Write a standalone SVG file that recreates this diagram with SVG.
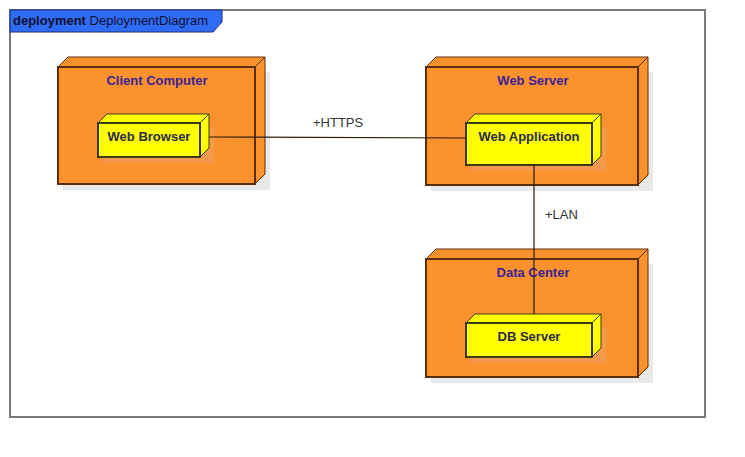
<svg xmlns="http://www.w3.org/2000/svg" width="745" height="457" viewBox="0 0 745 457">
  <style>
    text { font-family: "Liberation Sans", Arial, sans-serif; }
    .shadow { fill: #e9e9e9; }
    .node-front { fill: #fb922e; stroke: #5a2e0a; stroke-width: 2; }
    .node-side { fill: #fb922e; stroke: #5a2e0a; stroke-width: 1; stroke-linejoin: round; }
    .art-front { fill: #ffff00; stroke: #3a3a1a; stroke-width: 2; }
    .art-side { fill: #ffff00; stroke: #3a3a1a; stroke-width: 1; stroke-linejoin: round; }
    .node-title { font-size: 13px; font-weight: bold; fill: #3b1f94; text-anchor: middle; }
    .art-label { font-size: 13px; font-weight: bold; fill: #2c2c44; text-anchor: middle; }
    .edge { stroke: #2a1a0a; stroke-width: 1.2; fill: none; }
    .edge-label { font-size: 13px; fill: #333333; }
  </style>

  <rect width="745" height="457" fill="#ffffff"/>

  <!-- frame -->
  <g id="frame">
    <rect x="10" y="10" width="695" height="407" fill="#ffffff" stroke="#7a7a7a" stroke-width="2"/>
    <path d="M10,10 H222 V22 L213,32 H10 Z" fill="#2f6cf6" stroke="#1a2f7a" stroke-width="1"/>
    <text x="13" y="25" font-size="13" fill="#101030"><tspan font-weight="bold">deployment</tspan> DeploymentDiagram</text>
  </g>

  <!-- Client Computer -->
  <g id="client-computer">
    <rect class="shadow" x="63" y="72" width="207" height="118"/>
    <path class="node-side" d="M58,67 L68,57 H265 L255,67 Z"/>
    <path class="node-side" d="M255,67 L265,57 V174 L255,184 Z"/>
    <rect class="node-front" x="58" y="67" width="197" height="117"/>
    <text class="node-title" x="157" y="85">Client Computer</text>
  </g>

  <!-- Web Server -->
  <g id="web-server">
    <rect class="shadow" x="431" y="72" width="222" height="119"/>
    <path class="node-side" d="M426,67 L436,57 H648 L638,67 Z"/>
    <path class="node-side" d="M638,67 L648,57 V175 L638,185 Z"/>
    <rect class="node-front" x="426" y="67" width="212" height="118"/>
    <text class="node-title" x="533" y="85">Web Server</text>
  </g>

  <!-- Data Center -->
  <g id="data-center">
    <rect class="shadow" x="431" y="264" width="222" height="119"/>
    <path class="node-side" d="M426,259 L436,249 H648 L638,259 Z"/>
    <path class="node-side" d="M638,259 L648,249 V367 L638,377 Z"/>
    <rect class="node-front" x="426" y="259" width="212" height="118"/>
    <text class="node-title" x="533" y="277">Data Center</text>
  </g>

  <!-- Web Browser -->
  <g id="web-browser">
    <rect x="102" y="127" width="112" height="36" fill="#f0a060" opacity="0.6"/>
    <path class="art-side" d="M98,123 L107,114 H209 L200,123 Z"/>
    <path class="art-side" d="M200,123 L209,114 V148 L200,157 Z"/>
    <rect class="art-front" x="98" y="123" width="102" height="34"/>
    <text class="art-label" x="149" y="141">Web Browser</text>
  </g>

  <!-- Web Application -->
  <g id="web-application">
    <rect x="470" y="127" width="136" height="44" fill="#f0a060" opacity="0.6"/>
    <path class="art-side" d="M466,123 L475,114 H601 L592,123 Z"/>
    <path class="art-side" d="M592,123 L601,114 V156 L592,165 Z"/>
    <rect class="art-front" x="466" y="123" width="126" height="42"/>
    <text class="art-label" x="529" y="141">Web Application</text>
  </g>

  <!-- DB Server -->
  <g id="db-server">
    <rect x="470" y="327" width="136" height="36" fill="#f0a060" opacity="0.6"/>
    <path class="art-side" d="M466,323 L475,314 H601 L592,323 Z"/>
    <path class="art-side" d="M592,323 L601,314 V348 L592,357 Z"/>
    <rect class="art-front" x="466" y="323" width="126" height="34"/>
    <text class="art-label" x="529" y="341">DB Server</text>
  </g>

  <!-- connectors -->
  <g id="connectors">
    <line class="edge" x1="209" y1="137" x2="466" y2="138"/>
    <text class="edge-label" x="313" y="127">+HTTPS</text>
    <line class="edge" x1="534" y1="165" x2="534" y2="314"/>
    <text class="edge-label" x="545" y="219">+LAN</text>
  </g>
</svg>
